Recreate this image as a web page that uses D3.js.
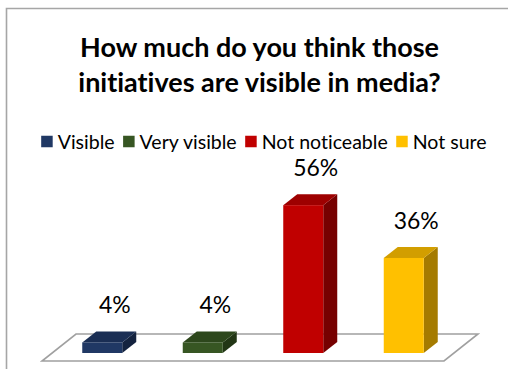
<!DOCTYPE html>
<html>
<head>
<meta charset="utf-8">
<script src="https://cdn.jsdelivr.net/npm/d3@7"></script>
<style>
  html, body { margin: 0; padding: 0; background: #ffffff; }
  svg { display: block; }
  text { font-variant-ligatures: none; font-feature-settings: "liga" 0, "clig" 0; }
</style>
</head>
<body>
<svg id="chart" width="508" height="369"></svg>
<script>
// Survey answers and their shares (percent)
const categories = ["Visible", "Very visible", "Not noticeable", "Not sure"];
const values = [4, 4, 56, 36];
const valueLabels = ["4%", "4%", "56%", "36%"];
const titleLines = ["How much do you think those", "initiatives are visible in media?"];

// Face colours per series: front, top, side
const frontColors = ["#203864", "#375623", "#c00000", "#ffc000"];
const topColors   = ["#1a2e54", "#2d471c", "#9e0000", "#d29e00"];
const sideColors  = ["#14233f", "#223615", "#760000", "#a57b00"];

const W = 508, H = 369;
const svg = d3.select("#chart");
const font = "Lato, 'Open Sans', sans-serif";

// Chart frame (left and top edges visible)
svg.append("path")
  .attr("d", `M6.5,${H} V8.5 H${W}`)
  .attr("fill", "none")
  .attr("stroke", "#a6a6a6")
  .attr("stroke-width", 1.6);

// Title, two bold centred lines
const title = svg.append("g");
const titleCx = 259.5;
const t1 = title.append("text")
  .attr("x", titleCx).attr("y", 56.7)
  .attr("text-anchor", "middle")
  .attr("font-family", font).attr("font-weight", 700)
  .attr("font-size", 24).attr("fill", "#000")
  .text(titleLines[0]);
const titleSize = 24 * 359 / t1.node().getComputedTextLength();
t1.attr("font-size", titleSize);
title.append("text")
  .attr("x", titleCx).attr("y", 91.7)
  .attr("text-anchor", "middle")
  .attr("font-family", font).attr("font-weight", 700)
  .attr("font-size", titleSize).attr("fill", "#000")
  .text(titleLines[1]);

// Legend row
const legend = svg.append("g");
const sw = 11.5, gapSwatch = 5, gapItem = 8.5;
const legendTarget = 486.7 - 41;
function layoutLegend(size) {
  legend.selectAll("*").remove();
  let lx = 0;
  categories.forEach((c, i) => {
    const g = legend.append("g");
    g.append("rect").attr("x", 0).attr("y", -sw / 2).attr("width", sw).attr("height", sw)
      .attr("fill", frontColors[i]);
    const txt = g.append("text").attr("x", sw + gapSwatch).attr("y", 0)
      .attr("dy", "0.36em")
      .attr("font-family", font).attr("font-size", size).attr("fill", "#000")
      .text(c);
    g.attr("transform", `translate(${lx},0)`);
    lx += sw + gapSwatch + txt.node().getComputedTextLength() + gapItem;
  });
  return lx - gapItem;
}
const textPart0 = layoutLegend(18) - 4 * (sw + gapSwatch) - 3 * gapItem;
const textTarget = legendTarget - 4 * (sw + gapSwatch) - 3 * gapItem;
const legendWidth = layoutLegend(18 * textTarget / textPart0);
legend.attr("transform", `translate(${263.9 - legendWidth / 2},141.5)`);

// 3D floor: front edge, depth vector
const floorY = 361, floorX0 = 42, floorX1 = 444;
const depth = [34, -27];
const barDepth = [14, -11];

svg.append("path")
  .attr("d", `M${floorX0},${floorY} L${floorX1},${floorY} L${floorX1 + depth[0]},${floorY + depth[1]} L${floorX0 + depth[0]},${floorY + depth[1]} Z`)
  .attr("fill", "#ffffff")
  .attr("stroke", "#a0a0a0")
  .attr("stroke-width", 1.6);

// Bars stand on the mid-depth line of the floor
const midY = floorY + depth[1] / 2;
const x = d3.scaleBand()
  .domain(categories)
  .range([floorX0 + depth[0] / 2, floorX1 + depth[0] / 2])
  .paddingInner(0.602)
  .paddingOuter(0.301);

const baseY = midY - barDepth[1] / 2;
const y = d3.scaleLinear().domain([0, 100]).range([baseY, baseY - 264]);

// label size: "56%" spans about 45px
const probe = svg.append("text").attr("font-family", font).attr("font-size", 24).text("56%");
const labelSize = 24 * 45 / probe.node().getComputedTextLength();
probe.remove();

const bars = svg.append("g").selectAll("g").data(values).join("g");

bars.each(function(v, i) {
  const g = d3.select(this);
  const x0 = x(categories[i]) - barDepth[0] / 2;
  const x1 = x0 + x.bandwidth();
  const yt = y(v), yb = y(0);
  const dx = barDepth[0], dy = barDepth[1];
  // side face
  g.append("path")
    .attr("d", `M${x1},${yb} L${x1 + dx},${yb + dy} L${x1 + dx},${yt + dy} L${x1},${yt} Z`)
    .attr("fill", sideColors[i]);
  // top face
  g.append("path")
    .attr("d", `M${x0},${yt} L${x1},${yt} L${x1 + dx},${yt + dy} L${x0 + dx},${yt + dy} Z`)
    .attr("fill", topColors[i]);
  // front face
  g.append("rect")
    .attr("x", x0).attr("y", yt)
    .attr("width", x1 - x0).attr("height", yb - yt)
    .attr("fill", frontColors[i]);
  // value label
  g.append("text")
    .attr("x", (x0 + x1) / 2 + 12.5)
    .attr("y", yt - 29)
    .attr("text-anchor", "middle")
    .attr("font-family", font).attr("font-size", labelSize).attr("fill", "#000")
    .text(valueLabels[i]);
});
</script>
</body>
</html>
